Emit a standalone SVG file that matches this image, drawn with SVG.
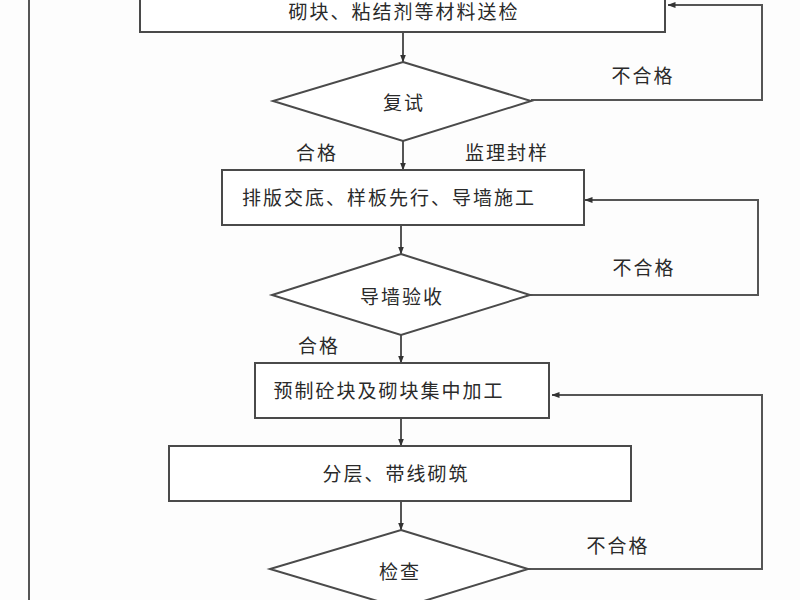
<svg xmlns="http://www.w3.org/2000/svg" width="800" height="600" viewBox="0 0 800 600">
<defs>
<marker id="arr" viewBox="0 0 8 8" refX="7.5" refY="4" markerWidth="8" markerHeight="8" markerUnits="userSpaceOnUse" orient="auto">
<path d="M0,1 L8,4 L0,7 Z" fill="#333"/>
</marker>
<style>
.shape{fill:#fff;stroke:#4a4a4a;stroke-width:2}
.line{fill:none;stroke:#555;stroke-width:2}
text{font-family:"Noto Sans CJK SC","Noto Sans",sans-serif;font-size:19px;letter-spacing:2px;fill:#2a2a2a}
.c{text-anchor:middle}
</style>
</defs>
<rect width="800" height="600" fill="#fdfdfd"/>
<line x1="29" y1="0" x2="29" y2="600" class="line"/>
<g id="connectors">
<path class="line" d="M403,32 V62" marker-end="url(#arr)"/>
<path class="line" d="M403,141 V170" marker-end="url(#arr)"/>
<path class="line" d="M401,225 V254" marker-end="url(#arr)"/>
<path class="line" d="M401,335 V363" marker-end="url(#arr)"/>
<path class="line" d="M401,418 V446" marker-end="url(#arr)"/>
<path class="line" d="M401,501 V530" marker-end="url(#arr)"/>
<path class="line" d="M531,100 H762 V5 H668" marker-end="url(#arr)"/>
<path class="line" d="M530,295 H758 V200 H585" marker-end="url(#arr)"/>
<path class="line" d="M528,569 H762 V395 H552" marker-end="url(#arr)"/>
<text x="643" y="83" class="c">不合格</text>
<text x="644" y="275" class="c">不合格</text>
<text x="618" y="553" class="c">不合格</text>
<text x="317" y="160" class="c">合格</text>
<text x="507" y="160" class="c">监理封样</text>
<text x="319" y="353" class="c">合格</text>
</g>
<g id="n1">
<rect x="140" y="-30" width="525" height="62" class="shape"/>
<text x="404" y="19" class="c">砌块、粘结剂等材料送检</text>
</g>
<g id="n2">
<polygon points="403,62 531,101 403,141 273,101" class="shape"/>
<text x="404" y="110" class="c">复试</text>
</g>
<g id="n3">
<rect x="222" y="170" width="362" height="55" class="shape"/>
<text x="389" y="205" class="c">排版交底、样板先行、导墙施工</text>
</g>
<g id="n4">
<polygon points="401,254 530,295 401,335 272,295" class="shape"/>
<text x="402" y="304" class="c">导墙验收</text>
</g>
<g id="n5">
<rect x="255" y="363" width="294" height="55" class="shape"/>
<text x="389" y="398" class="c">预制砼块及砌块集中加工</text>
</g>
<g id="n6">
<rect x="169" y="446" width="462" height="55" class="shape"/>
<text x="396" y="481" class="c">分层、带线砌筑</text>
</g>
<g id="n7">
<polygon points="401,530 528,569 401,608 270,569" class="shape"/>
<text x="400" y="579" class="c">检查</text>
</g>
</svg>
